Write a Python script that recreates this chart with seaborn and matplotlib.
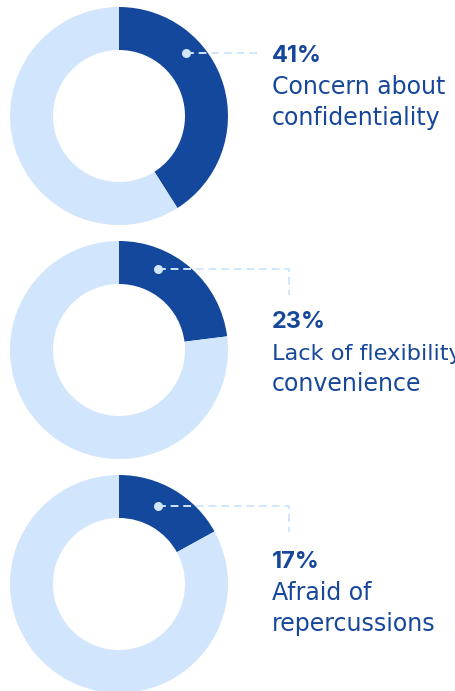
import matplotlib
matplotlib.use("Agg")
import matplotlib.pyplot as plt
import seaborn as sns

# Survey results: share of respondents citing each barrier
percentages = [41, 23, 17]
labels = ["41%", "23%", "17%"]
descriptions = [
    ["Concern about", "confidentiality"],
    ["Lack of flexibility/", "convenience"],
    ["Afraid of", "repercussions"],
]

DARK = "#14489c"
LIGHT = "#d1e6fc"
TEXT = "#17479a"

sns.set_theme(style="white")
plt.rcParams["font.family"] = ["Inter", "DejaVu Sans"]

W, H = 456, 691
fig = plt.figure(figsize=(W / 100, H / 100), dpi=100)
ax = fig.add_axes([0, 0, 1, 1])
ax.set_xlim(0, W)
ax.set_ylim(0, H)
ax.set_aspect("equal")
ax.axis("off")


def Y(y):
    return H - y


R_OUT, RING = 109, 43
centers = [(119, 116), (119, 350), (119, 584)]
dots = [(186, 53), (158, 269), (158, 506)]
# leader end points (x of corner, y of end of vertical drop; None = no drop)
leaders = [(258, None), (289, 295), (289, 532)]
baselines = [62, 328, 568]
TX = 272

for pct, lab, desc, (cx, cy), (dx, dy), (lx, ly), b in zip(
    percentages, labels, descriptions, centers, dots, leaders, baselines
):
    ax.pie(
        [pct, 100 - pct],
        colors=[DARK, LIGHT],
        startangle=90,
        counterclock=False,
        radius=R_OUT,
        center=(cx, Y(cy)),
        wedgeprops=dict(width=RING, linewidth=0),
        frame=True,
    )
    xs = [dx, lx] if ly is None else [dx, lx, lx]
    ys = [dy, dy] if ly is None else [dy, dy, ly]
    ax.plot(xs, [Y(v) for v in ys], color=LIGHT, lw=1.4,
            dashes=(4, 2.5), solid_capstyle="butt", zorder=3)
    ax.plot([dx], [Y(dy)], "o", ms=6.5, color=LIGHT, mec="none", zorder=4)

    ax.text(TX, Y(b), lab, color=TEXT, fontsize=17, fontweight="bold",
            va="baseline", ha="left")
    for i, line in enumerate(desc):
        size = 16.2 if len(line) > 16 else 17
        ax.text(TX, Y(b + 32 + 31 * i), line, color=TEXT, fontsize=size,
                family="DejaVu Sans", va="baseline", ha="left")

ax.set_xlim(0, W)
ax.set_ylim(0, H)
fig.savefig("out.png", dpi=100, facecolor="white")
